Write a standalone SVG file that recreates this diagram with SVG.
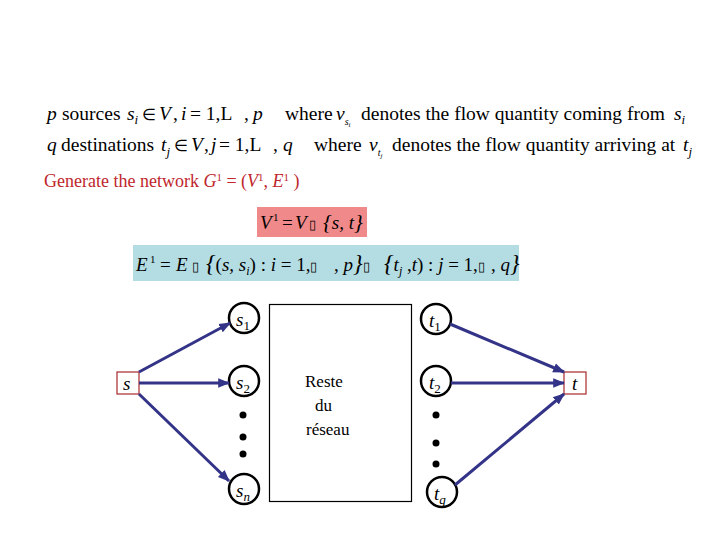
<svg xmlns="http://www.w3.org/2000/svg" width="720" height="540" viewBox="0 0 720 540">
<style>
  .t{font-family:"Liberation Serif","Times New Roman",serif;fill:#000}
  .h{font-size:19.5px}
  .i{font-style:italic}
  .n{font-style:normal}
  .el{font-size:16px}
  .red{fill:#c0262c;font-size:18px}
  .node{fill:none;stroke:#000;stroke-width:2.5}
  .lbl{font-family:"Liberation Serif",serif;font-style:italic;font-size:19px}
  .sub{font-size:13px}
  .tofu{font-size:13px;font-style:normal}
  .edge{stroke:#333388;stroke-width:3;fill:none;marker-end:url(#ah)}
  .dot{fill:#000}
</style>
<defs>
  <marker id="ah" viewBox="0 0 10 10" refX="9" refY="5" markerWidth="4" markerHeight="4" orient="auto" markerUnits="strokeWidth">
    <path d="M0,1 L10,5 L0,9 z" fill="#333388"/>
  </marker>
</defs>
<rect width="720" height="540" fill="#fff"/>

<g id="header">
  <text class="t h" y="120"><tspan x="47" class="i">p</tspan><tspan x="62">sources</tspan><tspan x="127" class="i">s</tspan><tspan class="i sub" dy="4">i</tspan><tspan x="142" dy="-4" class="el">∈</tspan><tspan x="159" class="i">V</tspan><tspan x="173">,</tspan><tspan x="181" class="i">i</tspan><tspan x="190">= 1,L</tspan><tspan x="244">,</tspan><tspan x="253" class="i">p</tspan></text>
  <text class="t h" y="120"><tspan x="285">where</tspan><tspan x="336" class="i">v</tspan><tspan class="i" font-size="10" dy="5">s</tspan><tspan class="i" font-size="7" dy="2">i</tspan><tspan x="361" dy="-7">denotes the flow quantity coming from</tspan><tspan x="674" class="i">s</tspan><tspan class="i sub" dy="4">i</tspan></text>
  <text class="t h" y="151"><tspan x="47" class="i">q</tspan><tspan x="61">destinations</tspan><tspan x="161" class="i">t</tspan><tspan class="i sub" dy="5">j</tspan><tspan x="174" dy="-5" class="el">∈</tspan><tspan x="191" class="i">V</tspan><tspan x="204">,</tspan><tspan x="211" class="i">j</tspan><tspan x="219">= 1,L</tspan><tspan x="273">,</tspan><tspan x="283" class="i">q</tspan></text>
  <text class="t h" y="151"><tspan x="314">where</tspan><tspan x="369" class="i">v</tspan><tspan class="i" font-size="10" dy="5">t</tspan><tspan class="i" font-size="7" dy="2">j</tspan><tspan x="392" dy="-7">denotes the flow quantity arriving at</tspan><tspan x="683" class="i">t</tspan><tspan class="i sub" dy="5">j</tspan></text>
  <text class="t red" x="44" y="187">Generate the network <tspan class="i">G</tspan><tspan font-size="11" dy="-6">1</tspan><tspan dy="6"> = (</tspan><tspan class="i">V</tspan><tspan font-size="11" dy="-6">1</tspan><tspan dy="6">, </tspan><tspan class="i">E</tspan><tspan font-size="11" dy="-6">1</tspan><tspan dy="6"> )</tspan></text>
</g>

<g id="v1-box">
  <rect x="257" y="207" width="110" height="30" fill="#f08a8a"/>
  <text class="t i" font-size="19" y="229"><tspan x="260">V</tspan><tspan x="273" class="n" font-size="11" dy="-8">1</tspan><tspan x="282" class="n" dy="8">=</tspan><tspan x="295">V</tspan><tspan x="309" class="tofu">▯</tspan><tspan x="323" font-size="22">{</tspan><tspan>s, t</tspan><tspan font-size="22">}</tspan></text>
</g>

<g id="e1-box">
  <rect x="133" y="245" width="386" height="36" fill="#b4dce3"/>
  <text class="t i" font-size="19" y="271"><tspan x="136">E</tspan><tspan x="150" class="n" font-size="11" dy="-8">1</tspan><tspan x="160" class="n" dy="8">=</tspan><tspan x="176">E</tspan><tspan x="192" class="tofu">▯</tspan><tspan x="206" font-size="24">{</tspan><tspan class="n">(</tspan>s, s<tspan font-size="12" dy="4">i</tspan><tspan dy="-4" class="n">) : </tspan>i<tspan class="n"> = 1,</tspan><tspan class="tofu">▯</tspan><tspan x="334" class="n">, </tspan>p<tspan font-size="24">}</tspan><tspan class="tofu">▯</tspan><tspan x="384" font-size="24">{</tspan>t<tspan font-size="12" dy="4">j</tspan><tspan dy="-4" class="n"> ,</tspan>t<tspan class="n">) : </tspan>j<tspan class="n"> = 1,</tspan><tspan class="tofu">▯</tspan><tspan x="491" class="n">, </tspan>q<tspan font-size="24">}</tspan></text>
</g>

<g id="rest">
  <rect x="269.5" y="304.5" width="142" height="197" fill="none" stroke="#000" stroke-width="1.2"/>
  <text class="t" font-size="17"><tspan x="305" y="387">Reste</tspan><tspan x="315" y="411">du</tspan><tspan x="306" y="435">réseau</tspan></text>
</g>

<g id="s">
  <rect x="117" y="372" width="22" height="22" fill="none" stroke="#a8282c" stroke-width="1.2"/>
  <text class="lbl" x="123" y="390">s</text>
</g>
<g id="t">
  <rect x="564" y="372" width="22" height="22" fill="none" stroke="#a8282c" stroke-width="1.2"/>
  <text class="lbl" x="572" y="390">t</text>
</g>

<g id="s1"><circle class="node" cx="244" cy="318" r="15"/><text class="lbl" x="236" y="326">s<tspan class="sub" dy="4" font-style="normal">1</tspan></text></g>
<g id="s2"><circle class="node" cx="244" cy="381" r="15"/><text class="lbl" x="236" y="389">s<tspan class="sub" dy="4" font-style="normal">2</tspan></text></g>
<g id="sn"><circle class="node" cx="244" cy="489" r="15"/><text class="lbl" x="236" y="497">s<tspan class="sub" dy="4">n</tspan></text></g>
<g id="t1"><circle class="node" cx="436" cy="319" r="15"/><text class="lbl" x="429" y="327">t<tspan class="sub" dy="4" font-style="normal">1</tspan></text></g>
<g id="t2"><circle class="node" cx="436" cy="381" r="15"/><text class="lbl" x="429" y="389">t<tspan class="sub" dy="4" font-style="normal">2</tspan></text></g>
<g id="tq"><circle class="node" cx="442" cy="492" r="15"/><text class="lbl" x="434" y="500">t<tspan class="sub" dy="4">q</tspan></text></g>

<g id="dots">
  <circle class="dot" cx="243" cy="415" r="3.5"/>
  <circle class="dot" cx="243" cy="437" r="3.5"/>
  <circle class="dot" cx="243" cy="454" r="3.5"/>
  <circle class="dot" cx="436" cy="415" r="3.5"/>
  <circle class="dot" cx="436" cy="443" r="3.5"/>
  <circle class="dot" cx="436" cy="464" r="3.5"/>
</g>

<g id="connectors">
  <line class="edge" x1="139" y1="372" x2="230" y2="323"/>
  <line class="edge" x1="139" y1="383" x2="229" y2="383"/>
  <line class="edge" x1="139" y1="394" x2="229" y2="481"/>
  <line class="edge" x1="450" y1="324" x2="564" y2="372"/>
  <line class="edge" x1="451" y1="383" x2="564" y2="383"/>
  <line class="edge" x1="455" y1="485" x2="564" y2="394"/>
</g>
</svg>
